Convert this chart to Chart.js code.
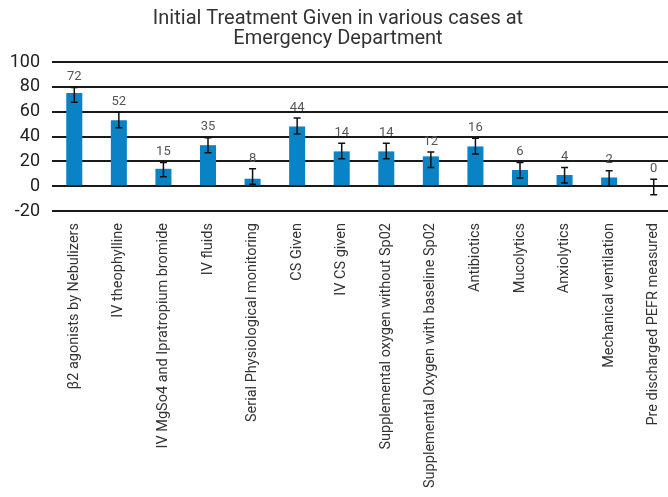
<!DOCTYPE html>
<html>
<head>
<meta charset="utf-8">
<script src="https://cdn.jsdelivr.net/npm/chart.js@4"></script>
<style>
  html, body { margin: 0; padding: 0; background: #fff; overflow: hidden; }
  #wrap { width: 668px; height: 497px; overflow: hidden; }
</style>
</head>
<body>
<div id="wrap"><canvas id="grafico" width="676" height="497"></canvas></div>
<script>
// DATOS:
const tratamientos = [
    'β2 agonists by Nebulizers', 'IV theophylline', 'IV MgSo4 and Ipratropium bromide', 'IV fluids',
    'Serial Physiological monitoring', 'CS Given', 'IV CS given', 'Supplemental oxygen without Sp02',
    'Supplemental Oxygen with baseline Sp02', 'Antibiotics', 'Mucolytics', 'Anxiolytics',
    'Mechanical ventilation', 'Pre discharged PEFR measured'
];
const valores = [75, 53, 14, 33, 6, 48, 28, 28, 24, 32, 13, 9, 7, 0];
const errorAlto = [79.5, 59.5, 19, 39, 14, 55, 34.5, 34.5, 27.5, 38.5, 19, 15, 12.5, 5.5];
const errorBajo = [67.5, 47, 7.5, 27, 1.5, 42, 22, 22, 15, 26, 6.5, 2.5, 0, -7];
const etiquetas = ['72', '52', '15', '35', '8', '44', '14', '14', '12', '16', '6', '4', '2', '0'];
const marcasY = [-20, 0, 20, 40, 60, 80, 100];

const fuente = 'Roboto, "DejaVu Sans", sans-serif';

// barras de error + etiquetas encima
const barrasError = {
    id: 'barrasError',
    afterDatasetsDraw(chart) {
        const ctx = chart.ctx;
        const y = chart.scales.y;
        const meta = chart.getDatasetMeta(0);
        ctx.save();
        ctx.strokeStyle = '#111';
        ctx.lineWidth = 1.5;
        meta.data.forEach((barra, i) => {
            const arriba = y.getPixelForValue(errorAlto[i]);
            const abajo = y.getPixelForValue(errorBajo[i]);
            ctx.beginPath();
            ctx.moveTo(barra.x, arriba);
            ctx.lineTo(barra.x, abajo);
            ctx.moveTo(barra.x - 3.5, arriba);
            ctx.lineTo(barra.x + 3.5, arriba);
            ctx.moveTo(barra.x - 3.5, abajo);
            ctx.lineTo(barra.x + 3.5, abajo);
            ctx.stroke();

            ctx.fillStyle = '#555';
            ctx.font = '13px ' + fuente;
            ctx.textAlign = 'center';
            ctx.textBaseline = 'bottom';
            ctx.fillText(etiquetas[i], barra.x, arriba - 4);
        });
        ctx.restore();
    }
};

new Chart(document.getElementById('grafico'), {
    type: 'bar',
    data: {
        labels: tratamientos,
        datasets: [{
            data: valores,
            backgroundColor: '#0a83c6',
            barPercentage: 0.36,
            categoryPercentage: 1
        }]
    },
    options: {
        responsive: false,
        animation: false,
        devicePixelRatio: 1,
        layout: { padding: { left: 0, right: 0, top: 0, bottom: 0 } },
        plugins: {
            legend: { display: false },
            tooltip: { enabled: false },
            title: {
                display: true,
                text: ['Initial Treatment Given in various cases at', 'Emergency Department'],
                color: '#333',
                font: { family: fuente, size: 20, weight: 'normal', lineHeight: 1.0 },
                padding: { top: 9, bottom: 13 }
            }
        },
        scales: {
            x: {
                grid: { display: false },
                border: { display: false },
                ticks: {
                    color: '#333',
                    font: { family: fuente, size: 14.5 },
                    maxRotation: 90,
                    minRotation: 90,
                    autoSkip: false,
                    padding: 4
                },
                afterFit(escala) { escala.height = 286; }
            },
            y: {
                min: -20,
                max: 100,
                afterBuildTicks(escala) { escala.ticks = marcasY.map(v => ({ value: v })); },
                grid: { color: '#1a1a1a', lineWidth: 2, drawTicks: false },
                border: { display: false },
                ticks: {
                    color: '#222',
                    font: { family: fuente, size: 18 },
                    padding: 12
                },
                afterFit(escala) { escala.width = 52; }
            }
        }
    },
    plugins: [barrasError]
});
</script>
</body>
</html>
